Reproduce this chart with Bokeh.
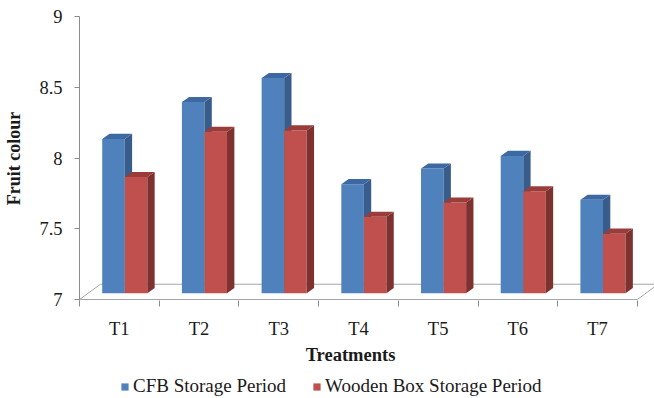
from bokeh.plotting import figure
from bokeh.layouts import column
from bokeh.models import FixedTicker, Legend, LegendItem, LinearAxis, Range1d
from bokeh.embed import file_html
from bokeh.resources import INLINE

# ---- data ----
categories = ["T1", "T2", "T3", "T4", "T5", "T6", "T7"]
cfb_storage = [8.09, 8.35, 8.52, 7.77, 7.88, 7.97, 7.66]
wooden_storage = [7.82, 8.14, 8.15, 7.54, 7.64, 7.72, 7.42]
y_ticks = [7, 7.5, 8, 8.5, 9]
y_tick_labels = ["7", "7.5", "8", "8.5", "9"]
series_names = ["CFB Storage Period", "Wooden Box Storage Period"]
x_title = "Treatments"
y_title = "Fruit colour"

# ---- style / geometry constants ----
FONT = "Liberation Serif"
TEXT = "#1a1a1a"
AXIS = "#8c8c8c"
W, H, LEG_H = 654, 374, 24
LEFT, TOP, BOTTOM = 79, 16, 74
CAT_PX = 79.7
Y0, Y1 = 6.993, 9.0
BAR_START = 0.285
BAR_W = 0.283
DX, DY = 0.092, 0.036          # depth offset of 3D faces
BASE = 7.0 + 0.045             # bars sit slightly back on the floor
FLOOR_BACK_X0, FLOOR_BACK_X1, FLOOR_BACK_Y = 0.263, 7.26, 7.108
COLORS = [("#4f81bd", "#385d8a", "#3e68a2"), ("#c0504d", "#7e3230", "#9a3c39")]

p = figure(width=W, height=H, output_backend="svg", toolbar_location=None,
           x_range=Range1d(0, (W - LEFT) / CAT_PX), y_range=Range1d(Y0, Y1),
           min_border_left=LEFT, min_border_right=0, min_border_top=TOP,
           min_border_bottom=BOTTOM)
p.outline_line_color = None
p.xgrid.visible = False
p.ygrid.visible = False

n = len(categories)
# floor
p.patch([0, n, FLOOR_BACK_X1, FLOOR_BACK_X0], [7, 7, FLOOR_BACK_Y, FLOOR_BACK_Y],
        fill_color="white", line_color="#a6a6a6", line_width=1)


def draw_series(values, offset, front, side, top):
    left = [i + offset for i in range(n)]
    right = [l + BAR_W for l in left]
    tops = [v + (BASE - 7.0) for v in values]
    p.quad(left=left, right=right, bottom=[BASE] * n, top=tops,
           fill_color=front, line_color=None)
    side_xs = [[rr, rr + DX, rr + DX, rr] for rr in right]
    side_ys = [[BASE, BASE + DY, t + DY, t] for t in tops]
    p.patches(side_xs, side_ys, fill_color=side, line_color=None)
    top_xs = [[l, rr, rr + DX, l + DX] for l, rr in zip(left, right)]
    top_ys = [[t, t, t + DY, t + DY] for t in tops]
    p.patches(top_xs, top_ys, fill_color=top, line_color=None)


draw_series(cfb_storage, BAR_START, *COLORS[0])
draw_series(wooden_storage, BAR_START + BAR_W, *COLORS[1])

# y axis
ya = p.yaxis[0]
ya.ticker = FixedTicker(ticks=y_ticks)
ya.major_label_overrides = {t: s for t, s in zip(y_ticks, y_tick_labels)}
ya.axis_line_color = AXIS
ya.major_tick_line_color = AXIS
ya.major_tick_out = 5
ya.major_tick_in = 0
ya.minor_tick_line_color = None
ya.major_label_standoff = 12
ya.major_label_text_font = FONT
ya.major_label_text_font_size = "18.5px"
ya.major_label_text_color = TEXT
ya.axis_label = y_title
ya.axis_label_text_font = FONT
ya.axis_label_text_font_size = "18px"
ya.axis_label_text_font_style = "bold"
ya.axis_label_text_color = TEXT
ya.axis_label_standoff = 12

# x axis (category labels, ticks between categories)
xa = p.xaxis[0]
xa.ticker = FixedTicker(ticks=[i + 0.5 for i in range(n)],
                        minor_ticks=[i for i in range(n + 1)])
xa.major_label_overrides = {i + 0.5: c for i, c in enumerate(categories)}
xa.axis_line_color = None
xa.major_tick_line_color = None
xa.major_tick_out = 0
xa.major_tick_in = 0
xa.minor_tick_line_color = AXIS
xa.minor_tick_out = 6
xa.minor_tick_in = 0
xa.major_label_standoff = 12
xa.major_label_text_font = FONT
xa.major_label_text_font_size = "18.5px"
xa.major_label_text_color = TEXT

# x title as a second below axis so it can sit left of the frame centre
title_pos = (350 - LEFT) / CAT_PX
xt = LinearAxis(ticker=FixedTicker(ticks=[title_pos], minor_ticks=[]),
                major_label_overrides={title_pos: x_title},
                axis_line_color=None, major_tick_line_color=None,
                minor_tick_line_color=None, major_tick_out=0, major_tick_in=0,
                major_label_standoff=3, major_label_text_font=FONT,
                major_label_text_font_size="18.5px",
                major_label_text_font_style="bold",
                major_label_text_color=TEXT)
p.add_layout(xt, "below")

# legend strip below the chart (key swatches live outside the visible range)
lf = figure(width=W, height=LEG_H, output_backend="svg", toolbar_location=None,
            x_range=Range1d(0, 1), y_range=Range1d(0, 1),
            x_axis_location=None, y_axis_location=None,
            min_border=0, outline_line_color=None)
lf.grid.visible = False
leg_r = [lf.quad(left=[-3], right=[-2], bottom=[-3], top=[-2],
                 fill_color=c[0], line_color=None) for c in COLORS]
legend = Legend(items=[LegendItem(label=s, renderers=[r]) for s, r in zip(series_names, leg_r)],
                orientation="horizontal", location=(120 - LEFT, 1),
                glyph_width=9, glyph_height=9, label_standoff=4, spacing=26,
                padding=0, margin=0, border_line_color=None,
                background_fill_alpha=0, label_text_font=FONT,
                label_text_font_size="19px", label_text_color=TEXT)
lf.add_layout(legend, "center")

open("out.html", "w").write(file_html(column(p, lf, spacing=0), INLINE))
